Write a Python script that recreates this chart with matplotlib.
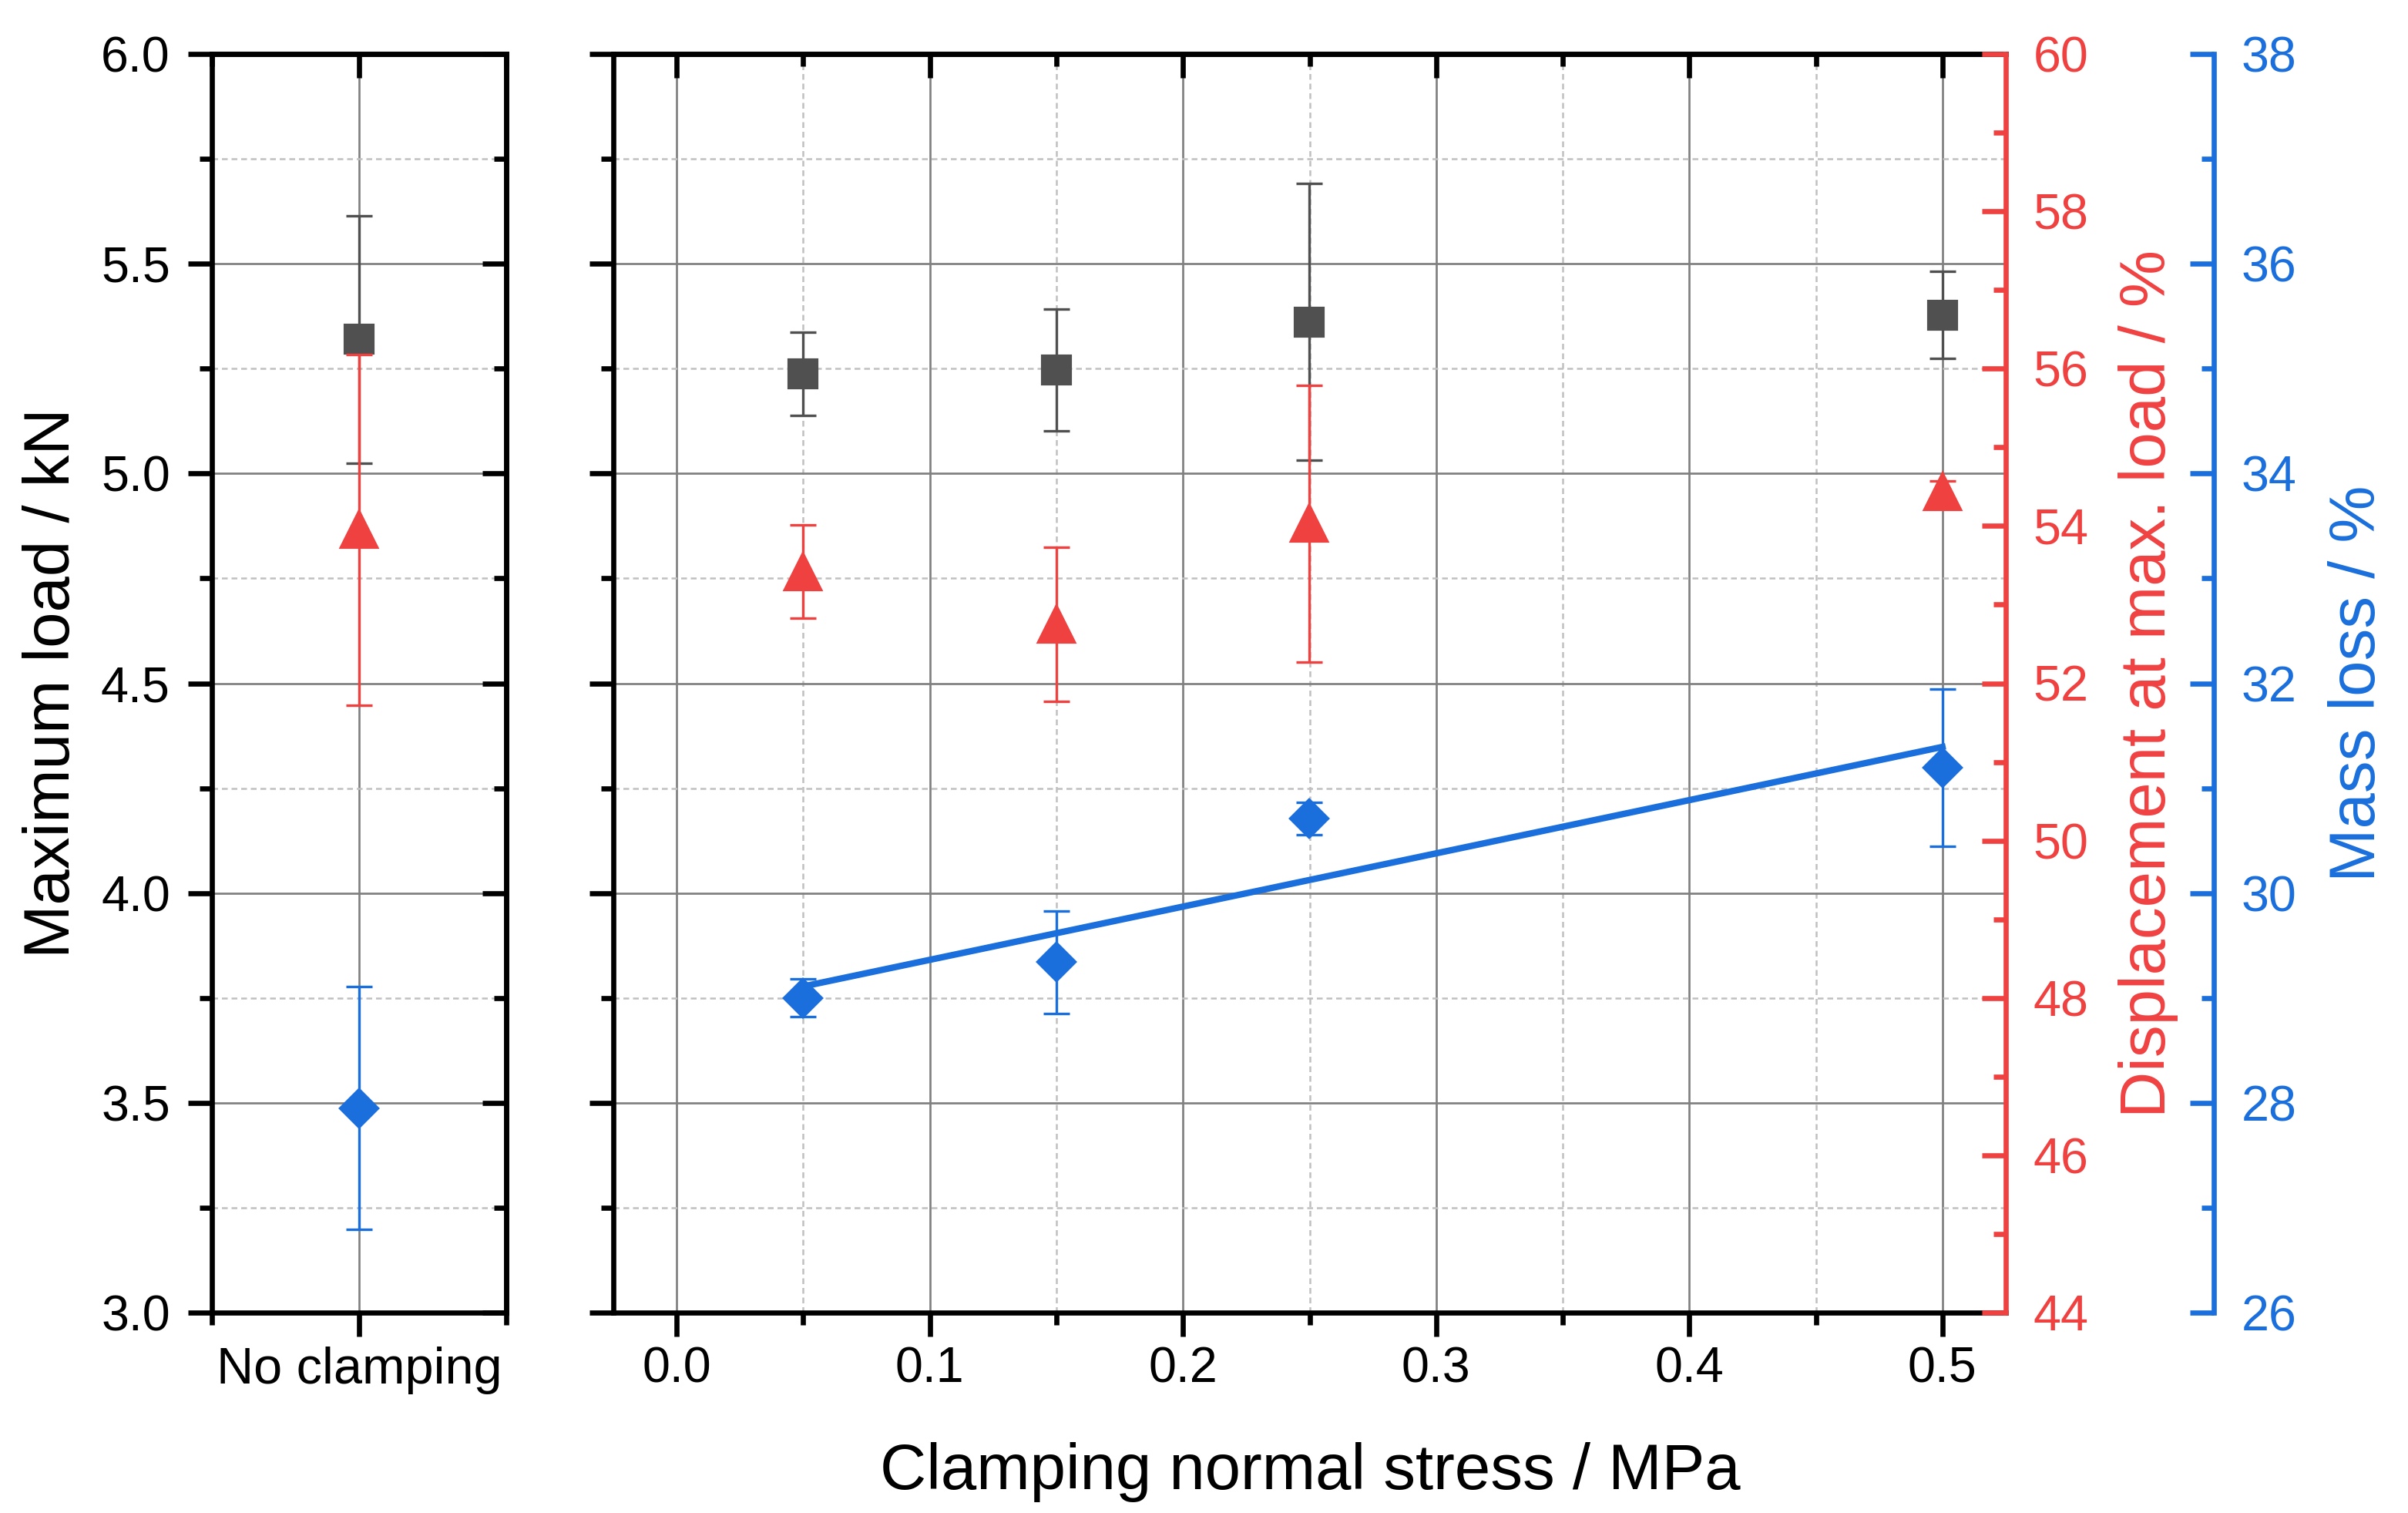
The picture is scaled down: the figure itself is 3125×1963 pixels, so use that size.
import numpy as np
import matplotlib
matplotlib.use("Agg")
import matplotlib.pyplot as plt
from matplotlib.ticker import MultipleLocator, FixedLocator

plt.rcParams['font.family'] = ['Liberation Sans', 'DejaVu Sans']

# ======================
# data
# ======================
nc_label = "No clamping"
nc_load, nc_load_err = 5.32, 0.295
nc_disp, nc_disp_err = 53.95, 2.23
nc_mass, nc_mass_err = 27.95, 1.16

stress = [0.05, 0.15, 0.25, 0.5]
load = [5.238, 5.246, 5.361, 5.378]
load_err = [0.099, 0.145, 0.33, 0.104]
disp = [53.42, 52.75, 54.03, 54.43]
disp_err = [0.59, 0.98, 1.76, 0.14]
mass = [29.0, 29.34, 30.71, 31.195]
mass_err = [0.18, 0.49, 0.157, 0.75]

# ======================
# style
# ======================
c_black = "#505050"
c_red = "#F04141"
c_blue = "#1A6FDC"
W, H = 3125, 1963
spine_lw = 1.6
maj_len, min_len = 7.5, 3.8
tick_fs = 15.5
label_fs = 20

fig = plt.figure(figsize=(W / 300, H / 300), dpi=300)

top_px, bot_px = 70, 1703
axl = fig.add_axes([275 / W, 1 - bot_px / H, (657 - 275) / W, (bot_px - top_px) / H])
axm = fig.add_axes([796 / W, 1 - bot_px / H, (2603 - 796) / W, (bot_px - top_px) / H])


def grid_setup(ax, vertical_minor=True):
    ax.grid(True, which='major', color='#808080', lw=0.65, zorder=0)
    ax.grid(True, which='minor', axis='y', color='#C0C0C0', lw=0.6, ls=(0, (3, 2)), zorder=0)
    if vertical_minor:
        ax.grid(True, which='minor', axis='x', color='#C0C0C0', lw=0.6, ls=(0, (3, 2)), zorder=0)
    ax.set_axisbelow(True)
    for s in ax.spines.values():
        s.set_linewidth(spine_lw)


def inward_ticks(sec, axis, major, minor):
    # ticks on the opposite side, pointing into the plot
    ax_obj = sec.xaxis if axis == 'x' else sec.yaxis
    ax_obj.set_major_locator(major)
    ax_obj.set_minor_locator(minor)
    sec.tick_params(which='both', direction='in', width=spine_lw,
                    labeltop=False, labelright=False)
    sec.tick_params(which='major', length=maj_len)
    sec.tick_params(which='minor', length=min_len)
    for s in sec.spines.values():
        s.set_linewidth(spine_lw)
    sec.set_zorder(5)


for ax in (axl, axm):
    ax.set_ylim(3.0, 6.0)
    ax.yaxis.set_major_locator(MultipleLocator(0.5))
    ax.yaxis.set_minor_locator(MultipleLocator(0.25))
    ax.tick_params(which='both', direction='out', width=spine_lw, labelsize=tick_fs,
                   top=False, right=False)
    ax.tick_params(which='major', length=maj_len)
    ax.tick_params(which='minor', length=min_len)
    ax.tick_params(axis='y', pad=5.5)
    ax.tick_params(axis='x', pad=3)

# left panel
axl.set_xlim(0.5, 1.5)
axl.xaxis.set_major_locator(FixedLocator([1]))
axl.xaxis.set_minor_locator(FixedLocator([0.5, 1.5]))
axl.set_xticklabels([nc_label], fontsize=16)
axl.yaxis.set_major_formatter(matplotlib.ticker.FormatStrFormatter('%.1f'))
grid_setup(axl, vertical_minor=False)

inward_ticks(axl.secondary_yaxis('right'), 'y', MultipleLocator(0.5), MultipleLocator(0.25))
inward_ticks(axl.secondary_xaxis('top'), 'x', FixedLocator([1]), FixedLocator([0.5, 1.5]))

# main panel
axm.set_xlim(-0.025, 0.525)
axm.xaxis.set_major_locator(MultipleLocator(0.1))
axm.xaxis.set_minor_locator(MultipleLocator(0.05))
axm.xaxis.set_major_formatter(matplotlib.ticker.FormatStrFormatter('%.1f'))
axm.yaxis.set_major_formatter(matplotlib.ticker.NullFormatter())
axm.spines['right'].set_visible(False)
grid_setup(axm)

inward_ticks(axm.secondary_xaxis('top'), 'x', MultipleLocator(0.1), MultipleLocator(0.05))

# twin axes
axl_red = axl.twinx()
axl_blue = axl.twinx()
axm_red = axm.twinx()
axm_blue = axm.twinx()
for a in (axl_red, axm_red):
    a.set_ylim(44, 60)
for a in (axl_blue, axm_blue):
    a.set_ylim(26, 38)
for a in (axl_red, axl_blue):
    a.axis('off')

for a, col, pos in ((axm_red, c_red, 1.0), (axm_blue, c_blue, 1 + (2873 - 2603) / (2603 - 796))):
    for k in ('left', 'top', 'bottom'):
        a.spines[k].set_visible(False)
    a.spines['right'].set_position(('axes', pos))
    a.spines['right'].set_color(col)
    a.spines['right'].set_linewidth(spine_lw)
    a.yaxis.set_major_locator(MultipleLocator(2))
    a.yaxis.set_minor_locator(MultipleLocator(1))
    a.tick_params(which='both', direction='in', width=spine_lw, colors=col, labelsize=tick_fs)
    a.tick_params(which='major', length=maj_len, pad=8.5)
    a.tick_params(which='minor', length=min_len)

err_kw = dict(elinewidth=0.8, capsize=4, capthick=0.8, ls='none')

# no clamping
axl.errorbar([1], [nc_load], yerr=[nc_load_err], marker='s', ms=8.8, color=c_black, zorder=3, **err_kw)
axl_red.errorbar([1], [nc_disp], yerr=[nc_disp_err], marker='^', ms=11, color=c_red, zorder=3, **err_kw)
axl_blue.errorbar([1], [nc_mass], yerr=[nc_mass_err], marker='D', ms=8.3, color=c_blue, zorder=3, **err_kw)

# clamped
axm.errorbar(stress, load, yerr=load_err, marker='s', ms=8.8, color=c_black, zorder=3, **err_kw)
axm_red.errorbar(stress, disp, yerr=disp_err, marker='^', ms=11, color=c_red, zorder=3, **err_kw)
axm_blue.errorbar(stress, mass, yerr=mass_err, marker='D', ms=8.3, color=c_blue, zorder=3, **err_kw)

# linear fit of mass loss
k, b = np.polyfit(stress, mass, 1)
xf = np.array([stress[0], stress[-1]])
axm_blue.plot(xf, k * xf + b, color=c_blue, lw=2.0, zorder=2)

# labels
yc = 1 - (top_px + bot_px) / 2 / H
fig.text(68 / W, yc, "Maximum load / kN", rotation=90, ha='center', va='center', fontsize=label_fs)
fig.text(2788 / W, yc, "Displacement at max. load / %", rotation=90, ha='center', va='center',
         fontsize=label_fs, color=c_red)
fig.text(3060 / W, yc, "Mass loss / %", rotation=90, ha='center', va='center',
         fontsize=label_fs, color=c_blue)
fig.text(1700 / W, 1 - 1932 / H, "Clamping normal stress / MPa", ha='center', va='baseline',
         fontsize=label_fs)

fig.savefig("out.png", dpi=300)
